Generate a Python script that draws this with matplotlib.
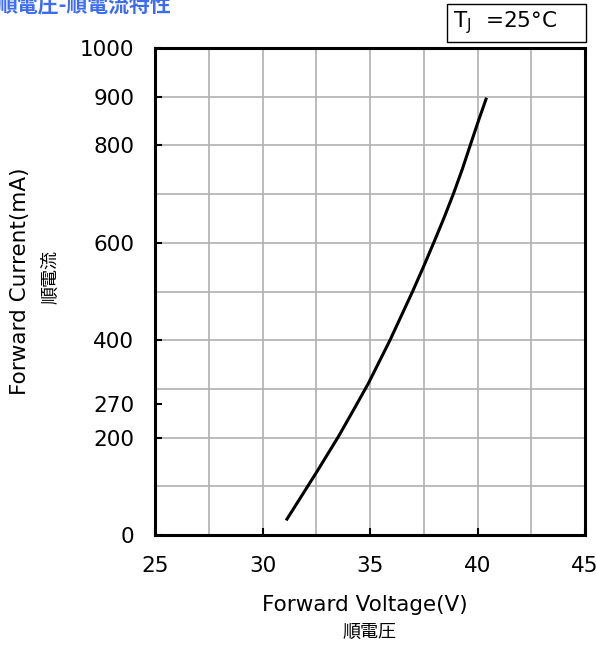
import matplotlib.pyplot as plt
from matplotlib.patches import Rectangle

plt.rcParams['font.family'] = ['DejaVu Sans', 'Noto Sans CJK JP']

# forward voltage (V) vs forward current (mA)
voltage = [31.1, 32.13, 32.53, 33.53, 34.25, 34.92, 35.93, 36.98, 37.5, 38.0, 38.45, 38.9, 39.3, 39.66, 40.04, 40.42]
current = [30, 102, 130, 202, 258, 311, 400, 500, 552, 604, 652, 703, 752, 800, 850, 898]

ytick_vals = [0, 200, 270, 400, 600, 800, 900, 1000]
xtick_vals = [25, 30, 35, 40, 45]
xgrid = [27.5, 30, 32.5, 35, 37.5, 40, 42.5]
ygrid = [100, 200, 300, 400, 500, 600, 700, 800, 900]

W, H = 596, 645
fig = plt.figure(figsize=(W/100, H/100), dpi=100)
ax = fig.add_axes([155/W, 1-535/H, 430/W, 487/H])

for g in xgrid:
    ax.axvline(g, color='#b0b0b0', lw=1.2, zorder=1)
for g in ygrid:
    ax.axhline(g, color='#b0b0b0', lw=1.2, zorder=1)

ax.plot(voltage, current, color='black', lw=2.2, solid_capstyle='butt', solid_joinstyle='round', zorder=3)

ax.set_xlim(25, 45)
ax.set_ylim(0, 1000)
ax.set_xticks(xtick_vals)
ax.set_yticks(ytick_vals)
ax.tick_params(direction='in', length=5, width=1.5, labelsize=15.5, pad=15)
for s in ax.spines.values():
    s.set_linewidth(2.2)
    s.set_zorder(4)

fig.text(365/W, 1-605/H, 'Forward Voltage(V)', fontsize=15.5, ha='center', va='center')
fig.text(369/W, 1-632/H, '順電圧', fontsize=13, ha='center', va='center')
fig.text(20/W, 1-281/H, 'Forward Current(mA)', rotation=90, fontsize=15.5, ha='center', va='center')
fig.text(50/W, 1-277/H, '順電流', rotation=90, fontsize=13, ha='center', va='center')

fig.text(-3/W, 1-12/H, '順電圧-順電流特性', color='#3d6cf0', fontsize=15, fontweight='bold',
         family=['Noto Sans CJK JP'], ha='left', va='baseline')

fig.patches.append(Rectangle((447/W, 1-42/H), 139/W, 38/H, transform=fig.transFigure,
                             fc='white', ec='black', lw=1))
fig.text(453/W, 1-23/H, r'T$_\mathregular{J}$  =25°C', fontsize=15.5, ha='left', va='center')

fig.savefig('out.png', dpi=100)
